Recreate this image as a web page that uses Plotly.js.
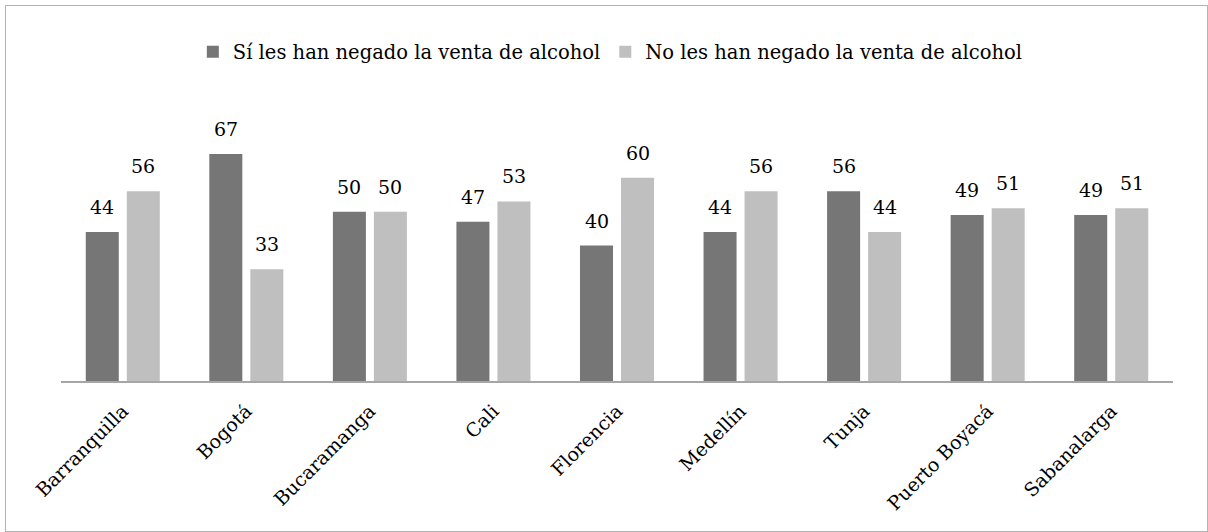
<!DOCTYPE html>
<html>
<head>
<meta charset="utf-8">
<script src="https://cdn.plot.ly/plotly-3.0.1.min.js"></script>
<style>
  html, body { margin: 0; padding: 0; background: #fff; }
  #chart { width: 1208px; height: 532px; position: relative; }
  #frame { position: absolute; left: 5px; top: 5px; width: 1201px; height: 525px; border: 1px solid #b3b3b3; pointer-events: none; z-index: 10; }
</style>
</head>
<body>
<div id="chart"></div>
<div id="frame"></div>
<script>
const categories = ["Barranquilla", "Bogotá", "Bucaramanga", "Cali", "Florencia", "Medellín", "Tunja", "Puerto Boyacá", "Sabanalarga"];
const seriesNames = ["Sí les han negado la venta de alcohol", "No les han negado la venta de alcohol"];
const siValues = [44, 67, 50, 47, 40, 44, 56, 49, 49];
const noValues = [56, 33, 50, 53, 60, 56, 44, 51, 51];

const FONT = "DejaVu Serif, serif";
const colors = ["#767676", "#bfbfbf"];

const traces = [
  { type: "bar", name: seriesNames[0], x: categories, y: siValues, marker: { color: colors[0] }, hoverinfo: "none" },
  { type: "bar", name: seriesNames[1], x: categories, y: noValues, marker: { color: colors[1] }, hoverinfo: "none" }
];

const annotations = [];
[siValues, noValues].forEach((vals, si) => {
  vals.forEach((v, i) => {
    annotations.push({
      x: categories[i], y: v, xref: "x", yref: "y",
      text: String(v), showarrow: false,
      xanchor: "center", yanchor: "bottom",
      xshift: si === 0 ? -20.5 : 20.5, yshift: 12,
      font: { family: FONT, size: 19, color: "#000" }
    });
  });
});

const layout = {
  width: 1208, height: 532,
  margin: { l: 61, r: 35, t: 110, b: 151 },
  paper_bgcolor: "#fff", plot_bgcolor: "#fff",
  barmode: "group", bargap: 0.336, bargroupgap: 0.195,
  font: { family: FONT, size: 19, color: "#000" },
  showlegend: true,
  legend: {
    orientation: "h", x: 0.494, xanchor: "center", y: 1.214, yanchor: "middle",
    font: { family: FONT, size: 19.5, color: "#000" },
    itemclick: false, itemdoubleclick: false
  },
  xaxis: {
    type: "category", tickangle: -45, showline: true, linecolor: "#a6a6a6", linewidth: 1.5,
    ticks: "", showgrid: false, zeroline: false, ticklabelstandoff: 10,
    tickfont: { family: FONT, size: 19, color: "#000" }
  },
  yaxis: {
    range: [0, 80], visible: false, showgrid: false, zeroline: false
  },
  annotations: annotations
};

Plotly.newPlot("chart", traces, layout, { displayModeBar: false, staticPlot: true });
</script>
</body>
</html>
